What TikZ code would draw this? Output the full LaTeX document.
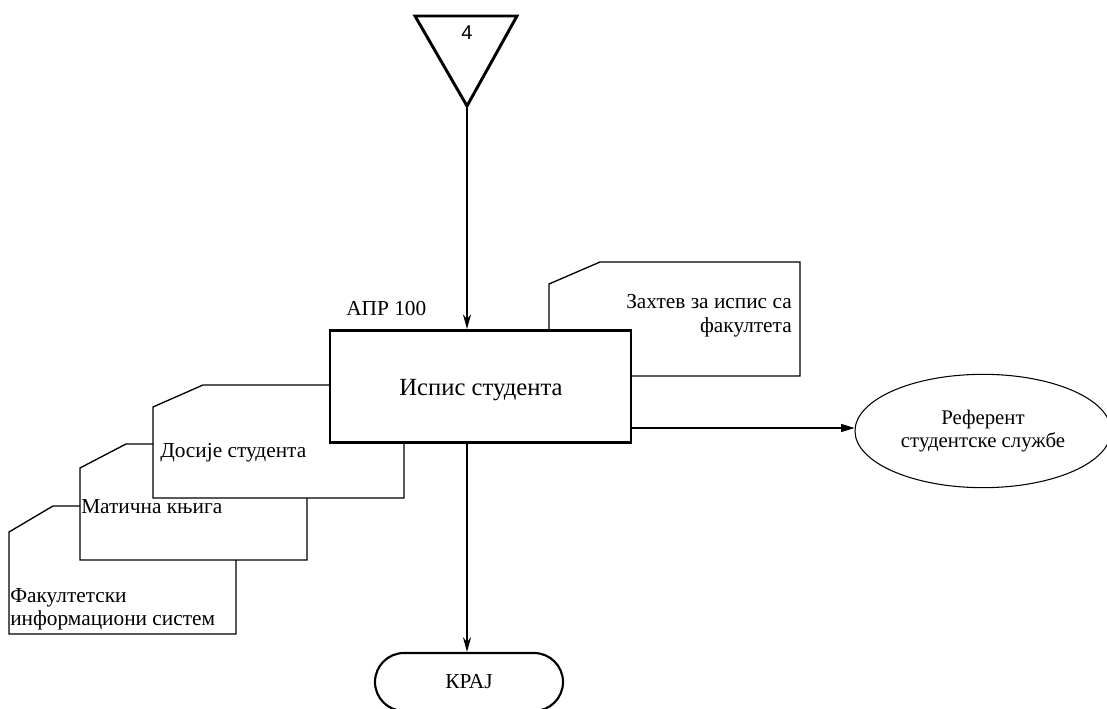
\documentclass[tikz,border=0pt]{standalone}
\usepackage{fontspec}
\setmainfont{Liberation Serif}
\newfontfamily\numfont{Liberation Sans}
\usetikzlibrary{arrows.meta,shapes.geometric,shapes.misc}
\begin{document}
\begin{tikzpicture}[x=0.75pt,y=-0.75pt,
  txt/.style={font=\fontsize{16}{18}\selectfont, inner sep=0pt},
  docline/.style={line width=1pt, line join=miter},
  flow/.style={line width=1.6pt, -{Stealth[length=11pt,width=6pt]}},
  thinflow/.style={line width=0.8pt, -{Triangle[length=10pt,width=6pt]}},
  mainbox/.style={draw, line width=2.2pt, minimum width=225.75pt, minimum height=84pt, inner sep=0pt},
  refell/.style={draw, ellipse, line width=0.8pt, minimum width=192pt, minimum height=85pt, inner sep=0pt, align=center, font=\fontsize{15.6}{17.25}\selectfont},
  term/.style={draw, rounded rectangle, line width=1.6pt, minimum width=141pt, minimum height=43.5pt, inner sep=0pt, font=\fontsize{16}{18}\selectfont}
]
\useasboundingbox (0,0) rectangle (1107,709);
% connector triangle
\draw[line width=2.2pt, line join=miter] (415,16) -- (517,16) -- (467,106) -- cycle;
\coordinate (tri) at (467,106);
\node[font=\numfont\fontsize{15}{17}\selectfont, inner sep=0pt] (num) at (467,33) {4};
% main process
\node[mainbox] (box) at (480.5,386.5) {};
\node[font=\fontsize{18.5}{20}\selectfont, inner sep=0pt, anchor=base] (boxtxt) at (481,395) {Испис студента};
\node[txt, anchor=base west] (apr) at (346,316) {АПР 100};
% documents
\draw[docline] (549,331) -- (549,284) -- (600,262) -- (800,262) -- (800,376) -- (631,376);
\node[txt, anchor=base east] (z1) at (792,309) {Захтев за испис са};
\node[txt, anchor=base east] (z2) at (792,333) {факултета};
\draw[docline] (330,385) -- (203,385) -- (153,407) -- (153,498) -- (404,498) -- (404,443);
\node[txt, anchor=base west] (d1) at (160,457) {Досије студента};
\draw[docline] (153,444) -- (126,444) -- (80,468) -- (80,560) -- (307,560) -- (307,498);
\node[txt, anchor=base west] (m1) at (81,513) {Матична књига};
\draw[docline] (80,506) -- (53,506) -- (9,532) -- (9,634) -- (236,634) -- (236,560);
\node[txt, anchor=base west] (f1) at (10,602) {Факултетски};
\node[txt, anchor=base west] (f2) at (10,625) {информациони систем};
% end and actor
\node[term] (kraj) at (469,682) {КРАЈ};
\node[refell] (ref) at (983,431) {Референт\\студентске службе};
% connectors
\draw[flow] (tri) -- (tri |- box.north);
\draw[flow] (tri |- box.south) -- (tri |- kraj.north);
\draw[thinflow] (box.east |- 0,428) -- (ref.west |- 0,428);
\end{tikzpicture}
\end{document}
